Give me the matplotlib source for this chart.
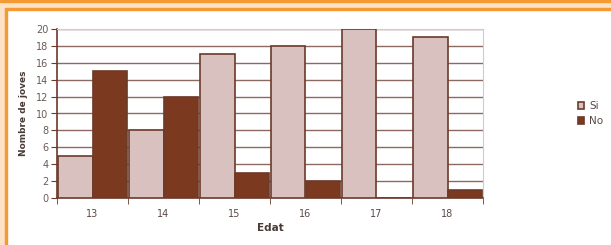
import matplotlib
matplotlib.use("Agg")
import matplotlib.pyplot as plt
from matplotlib.patches import Rectangle
import numpy as np

categories = ["13", "14", "15", "16", "17", "18"]
si_values = [5, 8, 17, 18, 20, 19]
no_values = [15, 12, 3, 2, 0, 1]
y_ticks = [0, 2, 4, 6, 8, 10, 12, 14, 16, 18, 20]

W, H = 611, 245
fig = plt.figure(figsize=(W / 100, H / 100), dpi=100)
fig.patch.set_facecolor("white")

# frame decorations (figure coords)
peach = "#fde2c6"
orange = "#f39a35"
fig.patches.append(Rectangle((0, 0), 5 / W, 1, transform=fig.transFigure, color=peach, zorder=0))
fig.patches.append(Rectangle((0, 1 - 9 / H), 1, 9 / H, transform=fig.transFigure, color=peach, zorder=0))
fig.patches.append(Rectangle((0, 1 - 2.5 / H), 1, 2.5 / H, transform=fig.transFigure, color=orange, zorder=1))
fig.patches.append(Rectangle((5 / W, 1 - 10.5 / H), 1, 2 / H, transform=fig.transFigure, color=orange, zorder=1))
fig.patches.append(Rectangle((5 / W, 0), 2 / W, 1 - 9 / H, transform=fig.transFigure, color=orange, zorder=1))

ax = fig.add_axes([57 / W, 1 - 198 / H, 426 / W, 169 / H])
ax.set_facecolor("white")

x = np.arange(len(categories))
bw = 0.485
edge = "#6b3a2a"
ax.bar(x - bw / 2, si_values, width=bw, color="#d9c1bf", edgecolor=edge, linewidth=1.2, label="Si", zorder=3)
ax.bar(x + bw / 2, no_values, width=bw, color="#7b3a1f", edgecolor=edge, linewidth=1.2, label="No", zorder=3)

ax.set_xlim(-0.5, len(categories) - 0.5)
ax.set_ylim(0, 20)
ax.set_yticks(y_ticks)
ax.set_yticklabels([str(v) for v in y_ticks])
ax.yaxis.grid(True, color="#8c6a63", linewidth=1.0, zorder=0)
ax.set_axisbelow(True)

ax.set_xticks(x)
ax.set_xticklabels(categories)
ax.set_xticks(np.arange(-0.5, len(categories), 1.0), minor=True)
ax.tick_params(axis="x", which="major", length=0, pad=8, labelsize=7, labelcolor="#5a4a46")
ax.tick_params(axis="x", which="minor", length=4, color="#6b3a2a", direction="out")
ax.tick_params(axis="y", length=4, color="#6b3a2a", labelsize=7, labelcolor="#6a5a56", pad=2)

for s in ["left", "bottom"]:
    ax.spines[s].set_color("#6b3a2a")
    ax.spines[s].set_linewidth(1.2)
for s in ["right", "top"]:
    ax.spines[s].set_color("#d8c8c6")
    ax.spines[s].set_linewidth(0.8)

ax.set_xlabel("Edat", fontsize=7.5, fontweight="bold", color="#4a3a36", labelpad=3)
ax.set_ylabel("Nombre de joves", fontsize=6.5, fontweight="bold", color="#4a3a36", labelpad=6)

leg = ax.legend(loc="center left", bbox_to_anchor=(1.2, 0.5), frameon=False, fontsize=7.5,
                handlelength=0.6, handleheight=0.6, handletextpad=0.5, labelspacing=0.5)
for t in leg.get_texts():
    t.set_color("#5a4a46")

fig.savefig("out.png", dpi=100)
